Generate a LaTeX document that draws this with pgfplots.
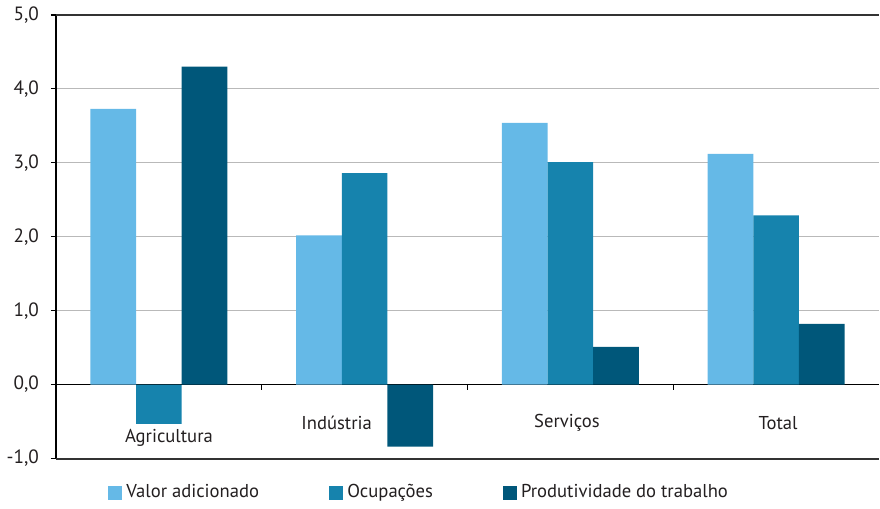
\documentclass[border=0pt]{standalone}
\usepackage{fontspec}
\setmainfont{PT Sans}
\usepackage{pgfplots}
\pgfplotsset{compat=1.18}
\definecolor{cA}{RGB}{101,185,231}
\definecolor{cB}{RGB}{22,131,173}
\definecolor{cC}{RGB}{0,87,122}
\definecolor{txt}{RGB}{35,31,32}
\begin{document}
\begin{tikzpicture}
\begin{axis}[
  scale only axis,
  width=411pt, height=221.5pt,
  xmin=-0.5, xmax=3.5,
  ymin=-1, ymax=5,
  axis y line*=left,
  axis x line*=middle,
  ytick={-1,0,1,2,3,4,5},
  xtick={-0.5,0.5,1.5,2.5},
  xticklabels={},
  tick align=outside,
  major tick length=2.5pt,
  tick style={black, line width=0.6pt},
  axis line style={black, line width=0.6pt},
  ymajorgrids,
  major grid style={gray!55, line width=0.6pt},
  extra y ticks={-1,5},
  extra y tick labels={},
  extra y tick style={grid=major, major grid style={black!80, line width=1pt}},
  yticklabel style={font=\fontsize{9.6}{11}\selectfont, text=txt, xshift=-2.5pt},
  /pgf/number format/.cd, assume math mode=true, use comma, fixed, fixed zerofill, precision=1,
  /pgfplots/.cd,
  ybar=0pt,
  bar width=0.222,
  legend style={at={(0.056,-0.04)}, anchor=north west, draw=none, font=\fontsize{9.3}{11}\selectfont, text=txt,
    legend columns=3, /tikz/every even column/.append style={column sep=33pt}},
  legend image code/.code={\fill[#1] (0pt,-3.5pt) rectangle (7pt,3.5pt);},
]
\addplot[fill=cA, draw=none] coordinates {(0,3.73) (1,2.02) (2,3.54) (3,3.12)};
\addplot[fill=cB, draw=none] coordinates {(0,-0.53) (1,2.86) (2,3.01) (3,2.29)};
\addplot[fill=cC, draw=none] coordinates {(0,4.30) (1,-0.84) (2,0.51) (3,0.82)};
\legend{Valor adicionado, Ocupações, Produtividade do trabalho}
\node[text=txt, font=\fontsize{9.3}{11}\selectfont] at (axis cs:0.049,-0.72) {Agricultura};
\node[text=txt, font=\fontsize{9.3}{11}\selectfont] at (axis cs:0.864,-0.515) {Indústria};
\node[text=txt, font=\fontsize{9.3}{11}\selectfont] at (axis cs:1.983,-0.515) {Serviços};
\node[text=txt, font=\fontsize{9.3}{11}\selectfont] at (axis cs:3.01,-0.515) {Total};
\end{axis}
\end{tikzpicture}
\end{document}
